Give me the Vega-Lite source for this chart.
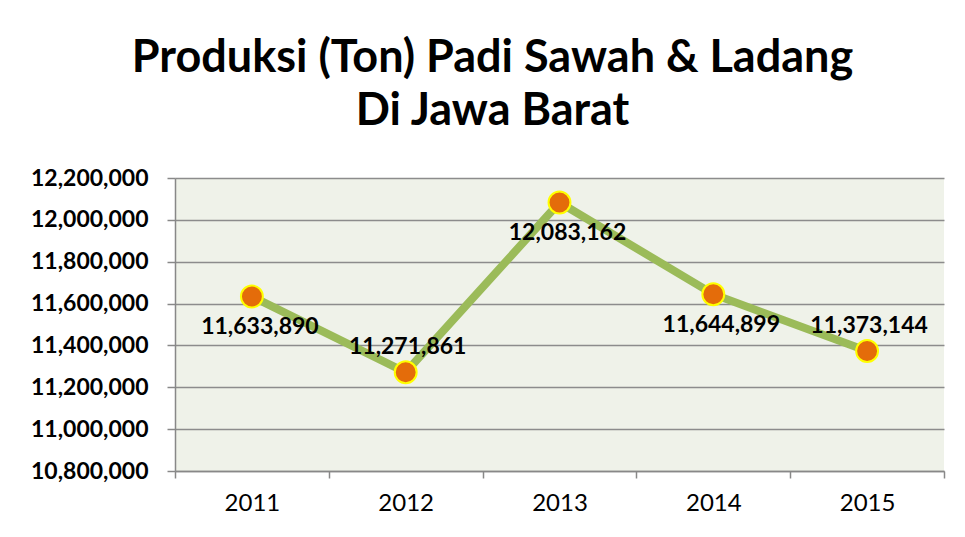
{
  "$schema": "https://vega.github.io/schema/vega-lite/v6.json",
  "width": 769,
  "height": 293,
  "autosize": {"type": "none"},
  "padding": {"left": 175, "top": 178, "right": 21, "bottom": 66},
  "background": "white",
  "title": {
    "text": ["Produksi (Ton) Padi Sawah & Ladang", "Di Jawa Barat"],
    "font": "Lato",
    "fontSize": 45,
    "fontWeight": "bold",
    "color": "black",
    "lineHeight": 53,
    "anchor": "middle",
    "dx": -67,
    "offset": 33
  },
  "config": {
    "view": {"fill": "#EFF2E9", "stroke": null},
    "font": "Lato",
    "axisX": {
      "labelFont": "Lato",
      "labelFontSize": 24,
      "labelColor": "black",
      "labelPadding": 13,
      "labelAngle": 0,
      "tickSize": 7,
      "tickColor": "#888888",
      "tickWidth": 1.5,
      "domainColor": "#888888",
      "domainWidth": 1.5,
      "grid": false
    },
    "axisY": {
      "labelFont": "Lato",
      "labelFontSize": 23,
      "labelFontWeight": "bold",
      "labelColor": "black",
      "labelPadding": 19,
      "tickSize": 8,
      "tickColor": "#888888",
      "tickWidth": 1.5,
      "domainColor": "#888888",
      "domainWidth": 1.5,
      "gridColor": "#8C8C8C",
      "gridWidth": 1.5
    }
  },
  "data": {
    "values": [
      {"year": "2011", "value": 11633890},
      {"year": "2012", "value": 11271861},
      {"year": "2013", "value": 12083162},
      {"year": "2014", "value": 11644899},
      {"year": "2015", "value": 11373144}
    ]
  },
  "encoding": {
    "x": {
      "field": "year",
      "type": "ordinal",
      "scale": {"type": "band", "paddingInner": 0, "paddingOuter": 0},
      "axis": {"title": null, "tickBand": "extent"}
    },
    "y": {
      "field": "value",
      "type": "quantitative",
      "scale": {"domain": [10800000, 12200000], "nice": false, "zero": false},
      "axis": {
        "title": null,
        "values": [10800000, 11000000, 11200000, 11400000, 11600000, 11800000, 12000000, 12200000],
        "labelExpr": "format(datum.value, ',')"
      }
    }
  },
  "layer": [
    {"mark": {"type": "line", "color": "#9BBB59", "strokeWidth": 8}},
    {"mark": {"type": "point", "filled": true, "fill": "#E46C0A", "stroke": "#FFFF00", "strokeWidth": 2, "size": 480, "opacity": 1}},
    {
      "transform": [{"filter": "datum.year == '2011' || datum.year == '2013' || datum.year == '2014'"}],
      "mark": {"type": "text", "font": "Lato", "fontSize": 23, "fontWeight": "bold", "color": "black", "dx": 8, "dy": 31},
      "encoding": {"text": {"field": "value", "type": "quantitative", "format": ","}}
    },
    {
      "transform": [{"filter": "datum.year == '2012' || datum.year == '2015'"}],
      "mark": {"type": "text", "font": "Lato", "fontSize": 23, "fontWeight": "bold", "color": "black", "dx": 2, "dy": -25},
      "encoding": {"text": {"field": "value", "type": "quantitative", "format": ","}}
    }
  ]
}
